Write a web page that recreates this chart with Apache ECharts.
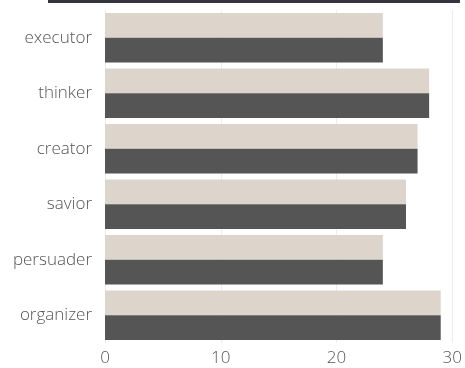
<!DOCTYPE html>
<html><head><meta charset="utf-8">
<script src="https://cdn.jsdelivr.net/npm/echarts@6/dist/echarts.min.js"></script>
<style>html,body{margin:0;padding:0;background:#fff}#c{width:465px;height:368px}</style>
</head><body><div id="c"></div>
<script>
const categories = ['executor','thinker','creator','savior','persuader','organizer'];
const seriesA = [24, 28, 27, 26, 24, 29];
const seriesB = [24, 28, 27, 26, 24, 29];
const xTicks = [0, 10, 20, 30];

const chart = echarts.init(document.getElementById('c'));
chart.setOption({
  animation: false,
  backgroundColor: '#fff',
  textStyle: { fontFamily: 'Open Sans' },
  graphic: [{ type: 'rect', shape: { x: 48, y: 0, width: 412, height: 3 }, style: { fill: '#35353f' } }],
  grid: { left: 105, right: 6, top: 10, bottom: 25, containLabel: false },
  xAxis: {
    type: 'value', min: xTicks[0], max: xTicks[xTicks.length-1], interval: 10,
    axisLine: { show: false }, axisTick: { show: false },
    axisLabel: { color: '#555', fontSize: 17, fontWeight: 300, margin: 7, fontFamily: 'Open Sans' },
    splitLine: { show: true, lineStyle: { color: '#ececec', width: 1 } }
  },
  yAxis: {
    type: 'category', data: categories, inverse: true,
    axisLine: { show: false }, axisTick: { show: false },
    axisLabel: { color: '#555', fontSize: 17, fontWeight: 300, margin: 13, fontFamily: 'Open Sans' }
  },
  series: [
    { type: 'bar', data: seriesA, barGap: '0%', barCategoryGap: '11%', itemStyle: { color: '#ddd5cc' } },
    { type: 'bar', data: seriesB, barGap: '0%', barCategoryGap: '11%', itemStyle: { color: '#555555' } }
  ]
});
</script></body></html>
